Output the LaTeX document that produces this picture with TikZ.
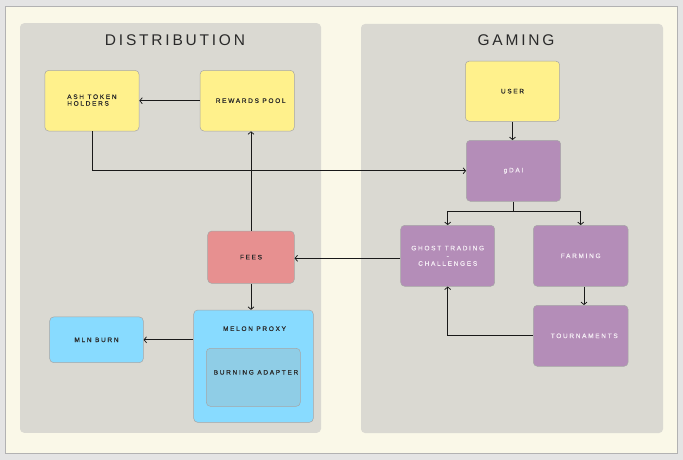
\documentclass[tikz,border=0pt]{standalone}
\usepackage{fontspec}
\setmainfont{Liberation Sans}
\newfontfamily\boxfont[LetterSpace=26,FakeBold=0.6]{Liberation Sans}
\newfontfamily\titlefont[LetterSpace=18]{Liberation Sans}
\usetikzlibrary{arrows.meta}
\definecolor{outerbg}{HTML}{E4E4E4}
\definecolor{cream}{HTML}{FAF8E8}
\definecolor{panelc}{HTML}{DAD9D2}
\definecolor{yellowc}{HTML}{FFF18C}
\definecolor{purplec}{HTML}{B48DB8}
\definecolor{feesc}{HTML}{E79090}
\definecolor{bluec}{HTML}{88DBFF}
\definecolor{adapterc}{HTML}{8FCDE6}
\definecolor{ptext}{HTML}{F4ECF4}
\definecolor{dtext}{HTML}{2A2A2A}
\tikzset{
  panel/.style={fill=panelc, rounded corners=4pt, draw=none, inner sep=0pt},
  titletext/.style={font=\titlefont\fontsize{15.5}{18}\selectfont, text=dtext, inner sep=0pt},
  box/.style={rounded corners=4pt, draw=black!35, line width=0.5pt, inner sep=0pt,
    font=\boxfont\fontsize{6.5}{8.2}\selectfont, align=center},
  ybox/.style={box, fill=yellowc, text=dtext},
  pbox/.style={box, fill=purplec, text=ptext},
  fbox/.style={box, fill=feesc, text=dtext},
  bbox/.style={box, fill=bluec, text=dtext},
  abox/.style={box, fill=adapterc, text=dtext},
  plain/.style={inner sep=0pt, font=\boxfont\fontsize{6.5}{8.2}\selectfont, text=dtext},
  arr/.style={draw=black!90, line width=0.75pt, -{Straight Barb[length=2.5pt,width=6pt]}},
  ln/.style={draw=black!90, line width=0.75pt}
}
\begin{document}
\begin{tikzpicture}[x=1pt,y=-1pt]
\useasboundingbox (0,0) rectangle (683,460);
\fill[outerbg] (0,0) rectangle (683,460);
\draw[fill=cream, draw=black!30, line width=0.8pt] (5,6) rectangle (677.5,453);
% panels
\node[panel, minimum width=301pt, minimum height=409.5pt] (pdist) at (170.5,228) {};
\node[panel, minimum width=302pt, minimum height=409pt] (pgame) at (512,228.5) {};
\node[titletext] (tdist) at (175,40) {DISTRIBUTION};
\node[titletext] (tgame) at (516,40) {GAMING};
% distribution boxes
\node[ybox, minimum width=94.3pt, minimum height=60.7pt] (ash) at (91.9,100.7) {\begin{tabular}{@{}l@{}}ASH TOKEN\\[-1.5pt]HOLDERS\end{tabular}};
\node[ybox, minimum width=94.3pt, minimum height=60.7pt] (pool) at (247.2,100.7) {\hspace*{7pt}REWARDS POOL};
\node[fbox, minimum width=86.6pt, minimum height=52.3pt] (fees) at (251,257.2) {FEES};
\node[bbox, minimum width=119.6pt, minimum height=112.3pt] (proxy) at (253.5,366.2) {};
\node[plain] (proxytxt) at (254.5,328.7) {MELON PROXY};
\node[abox, minimum width=94pt, minimum height=58pt] (adapter) at (253.3,377.3) {};
\node[plain] (adaptertxt) at (256,372.3) {BURNING ADAPTER};
\node[bbox, minimum width=93.6pt, minimum height=45.7pt] (mln) at (96.5,339.8) {MLN BURN};
% gaming boxes
\node[ybox, minimum width=94.4pt, minimum height=60.3pt] (user) at (512.5,91.2) {USER};
\node[pbox, minimum width=94.4pt, minimum height=61pt] (gdai) at (513.5,170.8) {gDAI};
\node[pbox, minimum width=94pt, minimum height=61pt] (ghost) at (447.7,255.8) {GHOST TRADING\\[-0.5pt]-\\[-0.5pt]CHALLENGES};
\node[pbox, minimum width=94.7pt, minimum height=61pt] (farm) at (580.7,255.8) {FARMING};
\node[pbox, minimum width=94.7pt, minimum height=61pt] (tourn) at (580.7,335.8) {\hspace*{7pt}TOURNAMENTS};
\coordinate (split) at (513.5,211);
% connectors
\draw[arr] (pool.west) -- (ash.east);
\draw[arr] (ash.south) |- (gdai.west);
\draw[arr] (user.south) -- (user.south |- gdai.north);
\draw[ln] (gdai.south) -- (split);
\draw[arr] (split) -| (ghost.north);
\draw[arr] (split) -| (farm.north);
\draw[arr] ([xshift=3.3pt]farm.south) -- ([xshift=3.3pt]tourn.north);
\draw[arr] (tourn.west) -| (ghost.south);
\draw[arr] ([yshift=-2.5pt]ghost.west) -- ([yshift=-2.5pt]ghost.west -| fees.east);
\draw[arr] (fees.north) -- (fees.north |- pool.south);
\draw[arr] (fees.south) -- (fees.south |- proxy.north);
\draw[arr] (proxy.west |- mln.east) -- (mln.east);
\end{tikzpicture}
\end{document}
